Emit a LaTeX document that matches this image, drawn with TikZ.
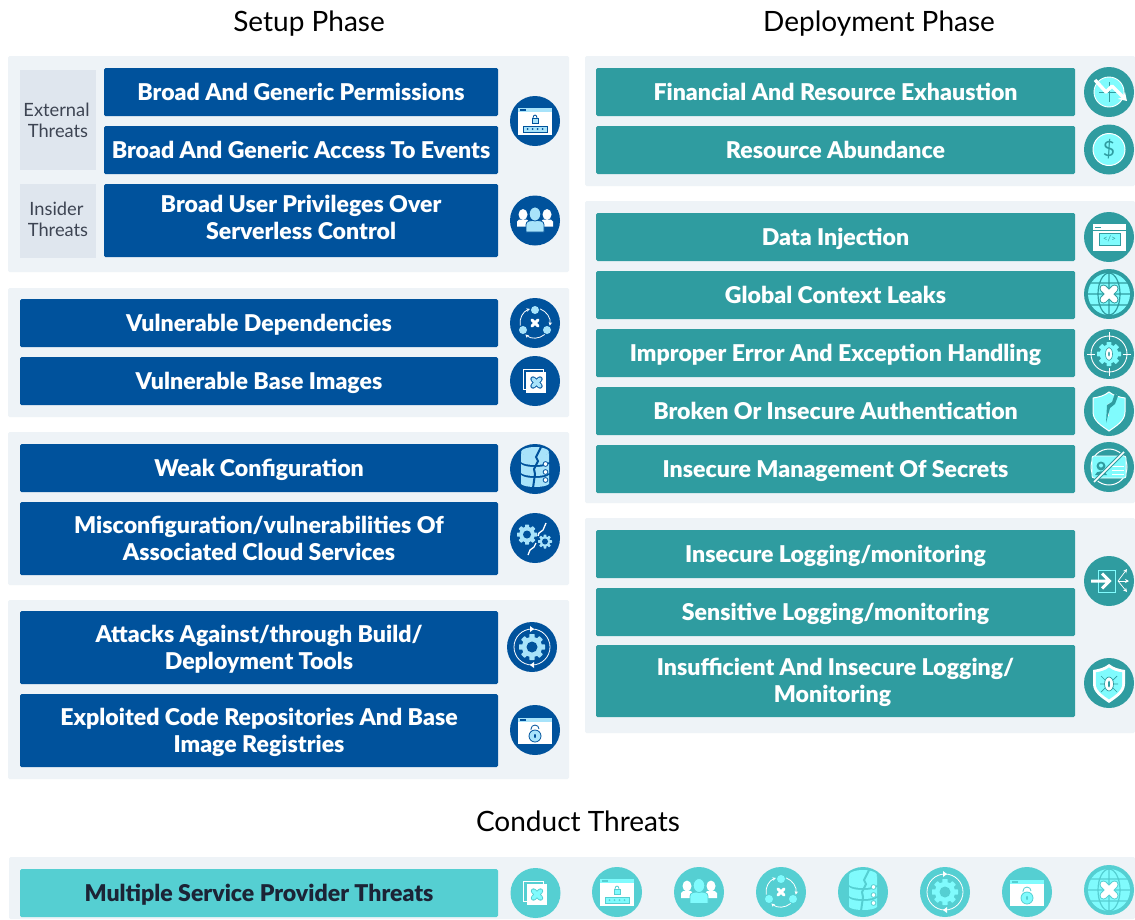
\documentclass[tikz,border=0pt]{standalone}
\usepackage{fontspec}
\setmainfont{Lato}[BoldFont={Lato Black}]
\usetikzlibrary{arrows.meta}
\definecolor{panelc}{HTML}{EEF3F7}
\definecolor{tagc}{HTML}{DFE6EE}
\definecolor{tagtext}{HTML}{3D4452}
\definecolor{bluec}{HTML}{00529C}
\definecolor{tealc}{HTML}{2F9CA0}
\definecolor{aquac}{HTML}{55CFD2}
\definecolor{darktext}{HTML}{1C2436}
\definecolor{lblue}{HTML}{A8E3FA}
\definecolor{lteal}{HTML}{80FBFD}
\colorlet{icd}{bluec}\colorlet{icl}{lblue}
\newcommand\usecolors[2]{\colorlet{icd}{#1}\colorlet{icl}{#2}}
\newcommand\tst{\rule[-5pt]{0pt}{26pt}}
\newcommand\icdisc{\fill[icd] (0,0) circle (25);}
\newcommand\icgear[2]{% radius, hole
  \foreach \ga in {0,45,...,135}{\fill[icl,rotate=\ga,rounded corners=.5pt] (-0.2*#1,-#1) rectangle (0.2*#1,#1);}
  \fill[icl] (0,0) circle (0.78*#1);
  \fill[icd] (0,0) circle (#2);}
\newcommand\icx[3]{% half size, core width, outline
  \draw[icd,line width=#2+2*#3,line cap=round] (-#1,-#1)--(#1,#1) (-#1,#1)--(#1,-#1);
  \draw[white,line width=#2,line cap=round] (-#1,-#1)--(#1,#1) (-#1,#1)--(#1,-#1);}
\newcommand\icshield[1]{%
  (0,-19) .. controls (-5,-15) and (-10,-14) .. (-16,-13) -- (-16,1) .. controls (-16,10) and (-7,15) .. (0,20)
  .. controls (7,15) and (16,10) .. (16,1) -- (16,-13) .. controls (10,-14) and (5,-15) .. (0,-19) -- cycle}
\tikzset{
  x=1pt,y=-1pt,
  panel/.style={fill=panelc,rounded corners=1.5pt},
  threatbase/.style={rounded corners=1.5pt,inner sep=0pt,align=center,font=\fontsize{23.1}{27}\selectfont\bfseries},
  bluebox/.style={threatbase,fill=bluec,text=white},
  tealbox/.style={threatbase,fill=tealc,text=white},
  aquabox/.style={threatbase,fill=aquac,text=darktext},
  tagbox/.style={fill=tagc,text=tagtext,inner sep=0pt,align=center,font=\fontsize{18.3}{21}\selectfont},
  phase/.style={inner sep=0pt,text height=20pt,text depth=5pt,font=\fontsize{28}{32}\selectfont,text=black},
  iclogin/.pic={\icdisc
    \fill[white] (-17,-13) rectangle (17,14);
    \fill[icl] (-17,-13) rectangle (17,-9);
    \fill[icd] (-15,-12) rectangle (-9,-10.5);
    \draw[icd,line width=.8] (-2,-3) arc (180:360:2 and 3);
    \fill[icl,draw=icd,line width=.7] (-3,-3) rectangle (3,2);
    \fill[icl,draw=icd,line width=.8] (-12,5) rectangle (12,11);
    \foreach \dx in {-7.5,-2.5,2.5,7.5}{\fill[icd] (\dx,8) circle (1);}
  },
  icusers/.pic={\icdisc
    \fill[white] (-18,6) -- (-18,1) .. controls (-18,-1) and (-15,-1) .. (-12,-1) .. controls (-9,-1) and (-6,-1) .. (-6,1) -- (-6,6) -- cycle;
    \fill[white] (18,6) -- (18,1) .. controls (18,-1) and (15,-1) .. (12,-1) .. controls (9,-1) and (6,-1) .. (6,1) -- (6,6) -- cycle;
    \fill[white] (-12,-6) ellipse (4.5 and 5.5);
    \fill[white] (12,-6) ellipse (4.5 and 5.5);
    \fill[icl,draw=icd,line width=.8] (-9,11.5) -- (-9,4) .. controls (-9,0) and (-4,0) .. (0,0) .. controls (4,0) and (9,0) .. (9,4) -- (9,11.5) -- cycle;
    \fill[icl,draw=icd,line width=.8] (0,-6.5) ellipse (5.8 and 7);
  },
  icdeps/.pic={\icdisc
    \fill[icl] (0,-13) circle (4);
    \fill[icl] (-12,7) circle (4);
    \fill[icl] (12,7) circle (4);
    \foreach \aa/\ab in {-70/10,50/130,170/250}{
      \draw[white,line width=.8,-{Stealth[length=3.5pt,width=3.5pt]}] (\aa:15) arc (\aa:\ab:15);}
    \draw[white,line width=3,line cap=round] (-3,-3)--(3,3) (-3,3)--(3,-3);
  },
  icbase/.pic={\icdisc
    \draw[white,line width=.8] (-12,-12) rectangle (8,8);
    \fill[white] (-9,-9) rectangle (11,12);
    \begin{scope}[shift={(1.5,1.5)}]
      \draw[icd,line width=5.4,line cap=round] (-3.5,-3.5)--(3.5,3.5) (-3.5,3.5)--(3.5,-3.5);
      \draw[icl,line width=3.6,line cap=round] (-3.5,-3.5)--(3.5,3.5) (-3.5,3.5)--(3.5,-3.5);
    \end{scope}
  },
  icdb/.pic={\icdisc
    \foreach \yy in {-9,2,13}{
      \fill[icl] (-14,\yy-7) -- (-14,\yy+2) .. controls (-10,\yy+6) and (10,\yy+6) .. (14,\yy+2) -- (14,\yy-7)
        .. controls (10,\yy-3) and (-10,\yy-3) .. (-14,\yy-7) -- cycle;}
    \fill[icl] (0,-17) ellipse (14 and 5);
    \draw[icd,line width=2] (6,-22) -- (1,-12) -- (3,-8) -- (-1,0) -- (0,5) -- (-2,19);
    \foreach \yy in {-5,3,11}{\fill[white,draw=icd,line width=.8] (10.5,\yy) circle (2.4);}
  },
  icconf/.pic={\icdisc
    \begin{scope}[shift={(-8,-3.5)}]\icgear{10}{4}\end{scope}
    \begin{scope}[shift={(10,3.5)}]\icgear{7}{3}\end{scope}
    \draw[white,line width=1.3,line join=round] (11,-15) -- (8,-8) -- (4,-5) -- (3,-2);
    \draw[white,line width=1.3,line join=round] (1,5) -- (-1,9) -- (-5,12) -- (-7,17);
  },
  ictools/.pic={\icdisc
    \draw[white,line width=.8] (0,0) circle (18);
    \fill[white] (-2,-21) -- (2,-18) -- (-2,-15) -- cycle;
    \fill[white] (2,21) -- (-2,18) -- (2,15) -- cycle;
    \icgear{13}{5.5}
  },
  icrepo/.pic={\icdisc
    \fill[white] (-17,-12) rectangle (17,14);
    \fill[icl] (-17,-12) rectangle (17,-8);
    \fill[icd] (-15,-11) rectangle (-9,-9.5);
    \draw[icd,line width=.8] (-4,0) -- (-4,-1) arc (180:360:4);
    \fill[icl,draw=icd,line width=.8] (0,6) circle (6);
    \fill[icd] (0,6) ellipse (1 and 2);
  },
  icfin/.pic={\icdisc
    \fill[icl,draw=white,line width=.9] (0,0) circle (15);
    \draw[icd,line width=.7] (0,-10) -- (0,10) (-10,0) -- (10,0);
    \draw[white,line width=3.4,line join=round,-{Stealth[length=8pt,width=10pt]}] (-14,-12) -- (-3,0) -- (3,-6) -- (18,9);
  },
  icdollar/.pic={\icdisc
    \fill[icl,draw=white,line width=1] (0,0) circle (16);
    \node[text=icd,inner sep=0pt,font=\fontsize{21}{21}\selectfont] (#1) at (0,0) {\$};
  },
  icdata/.pic={\icdisc
    \fill[white] (-16,-13) rectangle (17,14);
    \fill[icd] (-14,-10.5) rectangle (-8,-9.5);
    \draw[icd,line width=.7] (-16,-7) -- (17,-7);
    \fill[icl,draw=icd,line width=.7] (-10,-4) rectangle (11,8);
    \node[text=icd,inner sep=0pt,font=\fontsize{8}{8}\selectfont] (#1) at (.5,2) {</>};
  },
  icglobe/.pic={\icdisc
    \fill[icl] (0,0) circle (21);
    \draw[icd,line width=1.2] (0,-21) -- (0,21) (0,0) ellipse (11 and 21)
       (-18,-11) -- (18,-11) (-21,0) -- (21,0) (-18,11) -- (18,11);
    \icx{5.5}{6}{1}
  },
  icbug/.pic={\icdisc
    \draw[white,line width=.9] (0,0) circle (18);
    \draw[white,line width=.9] (0,-22) -- (0,-14) (0,22) -- (0,14) (-22,0) -- (-14,0) (22,0) -- (14,0);
    \icgear{12}{0.1}
    \fill[white,draw=icd,line width=.6] (0,0) ellipse (3.5 and 6.5);
    \fill[icd] (0,0) ellipse (.8 and 2.5);
  },
  icbroken/.pic={\icdisc
    \fill[icl,draw=white,line width=1] \icshield{};
    \draw[white,line width=1.8,line join=round] (7,-17) -- (4,-8) -- (-1,-6) -- (-1,5);
    \fill[icd] (6,-18) -- (3,-9) -- (-2,-6) -- (-3,12) -- (1,-3) -- (6,-7) -- (9,-15) -- cycle;
  },
  icsecret/.pic={\icdisc
    \draw[white,line width=1] (0,0) circle (18);
    \fill[icl,draw=white,line width=.8,rounded corners=2pt] (-17,-11) rectangle (17,11);
    \fill[icd] (-8,-1) circle (4.5);
    \fill[icl] (-8,-1.5) circle (2);
    \fill[icd] (-14,8) .. controls (-13,3) and (-3,3) .. (-2,8) -- cycle;
    \foreach \yy in {-1,3,7}{\draw[white,line width=1] (3,\yy) -- (15,\yy);}
    \draw[icd,line width=3.6] (-15,15) -- (15,-15);
    \draw[white,line width=1.6] (-15,15) -- (15,-15);
  },
  iclog/.pic={\icdisc
    \draw[icl,line width=.9] (-11,-11) rectangle (6,11);
    \draw[white,line width=3] (-18,0) -- (0,0) (-7,-7.5) -- (.5,0) -- (-7,7.5);
    \foreach \ex/\ey in {18/-12,20/0,18/11}{\draw[white,line width=.7,-{Stealth[length=4pt,width=4pt]}] (9,0) -- (\ex,\ey);}
  },
  icsbug/.pic={\icdisc
    \fill[white] \icshield{};
    \begin{scope}[scale=.82]\fill[icl] \icshield{};\end{scope}
    \draw[icd,line width=.7] (-8,-7) -- (-4,-3) (8,-7) -- (4,-3) (-9,1) -- (-4,1) (9,1) -- (4,1) (-8,9) -- (-4,5) (8,9) -- (4,5);
    \fill[white,draw=icd,line width=.7] (0,1) ellipse (4.5 and 7);
    \fill[icd] (0,1) ellipse (1 and 3.5);
  },
}
\newcommand\tb[7]{\node[#1,minimum width={#5-#3},minimum height={#6-#4}] (#2) at ({(#3+#5)/2},{(#4+#6)/2}) {\tst #7};}
\newcommand\tg[7]{\node[#1,minimum width={#5-#3},minimum height={#6-#4}] (#2) at ({(#3+#5)/2},{(#4+#6)/2}) {#7};}
\newcommand\pn[4]{\fill[panel] (#1,#2) rectangle (#3,#4);}
\begin{document}
\begin{tikzpicture}
\useasboundingbox (0,0) rectangle (1135,919);
\fill[white] (0,0) rectangle (1135,919);
% panels
\pn{8}{56}{569}{272}\pn{8}{288}{569}{417}\pn{8}{432}{569}{585}\pn{8}{600}{569}{779}
\pn{585}{56}{1135}{186}\pn{585}{201}{1135}{503}\pn{585}{518}{1135}{733}
\pn{9}{857}{1135}{919}
% titles
\node[phase] (setup) at (309,23.5) {Setup Phase};
\node[phase] (deploy) at (879,23.5) {Deployment Phase};
\node[phase] (conduct) at (578,823.5) {Conduct Threats};
% tags
\tg{tagbox}{ext}{20}{70}{96}{170}{External\hspace*{3pt}\\Threats}
\tg{tagbox}{ins}{20}{184}{96}{258}{Insider\hspace*{3pt}\\Threats\rule[-4pt]{0pt}{0pt}}
% left
\tb{bluebox}{l1}{104}{68}{498}{116}{Broad And Generic Permissions}
\tb{bluebox}{l2}{104}{126}{498}{174}{Broad And Generic Access To Events}
\tb{bluebox}{l3}{104}{184}{498}{257}{Broad User Privileges Over\\\tst Serverless Control\rule[-11pt]{0pt}{0pt}}
\tb{bluebox}{l4}{20}{299}{498}{347}{Vulnerable Dependencies}
\tb{bluebox}{l5}{20}{357}{498}{405}{Vulnerable Base Images}
\tb{bluebox}{l6}{20}{444}{498}{492}{Weak Configuration}
\tb{bluebox}{l7}{20}{502}{498}{575}{Misconfiguration/vulnerabilities Of\\\tst Associated Cloud Services}
\tb{bluebox}{l8}{20}{611}{498}{684}{Attacks Against/through Build/\\\tst Deployment Tools}
\tb{bluebox}{l9}{20}{694}{498}{767}{Exploited Code Repositories And Base\\\tst Image Registries}
% right
\tb{tealbox}{r1}{596}{68}{1075}{116}{Financial And Resource Exhaustion}
\tb{tealbox}{r2}{596}{126}{1075}{174}{Resource Abundance}
\tb{tealbox}{r3}{596}{213}{1075}{261}{Data Injection}
\tb{tealbox}{r4}{596}{271}{1075}{319}{Global Context Leaks}
\tb{tealbox}{r5}{596}{329}{1075}{377}{Improper Error And Exception Handling}
\tb{tealbox}{r6}{596}{387}{1075}{435}{Broken Or Insecure Authentication}
\tb{tealbox}{r7}{596}{445}{1075}{493}{Insecure Management Of Secrets}
\tb{tealbox}{r8}{596}{530}{1075}{578}{Insecure Logging/monitoring}
\tb{tealbox}{r9}{596}{588}{1075}{636}{Sensitive Logging/monitoring}
\tb{tealbox}{r10}{596}{645}{1075}{717}{Insufficient And Insecure Logging/\\\tst Monitoring\hspace*{6pt}}
\tb{aquabox}{c1}{20}{869}{498}{917}{Multiple Service Provider Threats}
% icons blue
\pic at (535,121) {iclogin};
\pic at (535,220.5) {icusers};
\pic at (535,323) {icdeps};
\pic at (535,381) {icbase};
\pic at (535,469) {icdb};
\pic at (535,538) {icconf};
\pic at (532,647) {ictools};
\pic at (535,730) {icrepo};
% icons teal
\begin{scope}
\usecolors{tealc}{lteal}
\pic at (1109,92) {icfin};
\pic (dollar) at (1109,149.5) {icdollar};
\pic (code) at (1109,237) {icdata};
\pic at (1109,294) {icglobe};
\pic at (1109,354) {icbug};
\pic at (1109,411) {icbroken};
\pic at (1109,467) {icsecret};
\pic at (1109,581) {iclog};
\pic at (1109,683) {icsbug};
\end{scope}
% icons aqua
\begin{scope}
\usecolors{aquac}{lteal}
\pic at (535.5,893) {icbase};
\pic at (617,892) {iclogin};
\pic at (699,892) {icusers};
\pic at (781,892) {icdeps};
\pic at (863,892) {icdb};
\pic at (945,892) {ictools};
\pic at (1027,892) {icrepo};
\pic at (1109,890) {icglobe};
\end{scope}
\end{tikzpicture}
\end{document}
